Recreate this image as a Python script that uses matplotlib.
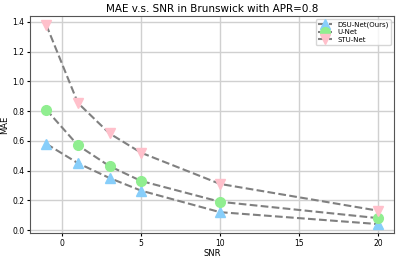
import matplotlib
matplotlib.use("Agg")
import matplotlib.pyplot as plt

snr = [-1, 1, 3, 5, 10, 20]
dsu = [0.58, 0.45, 0.35, 0.265, 0.12, 0.04]
unet = [0.81, 0.57, 0.43, 0.33, 0.19, 0.08]
stu = [1.38, 0.855, 0.65, 0.52, 0.31, 0.13]

fig = plt.figure(figsize=(3.99, 2.59), dpi=100)
ax = fig.add_axes([30/399, 1 - 233/259, 364/399, 217/259])

ax.plot(snr, dsu, linestyle='--', color='gray', marker='^', markersize=7,
        markerfacecolor='lightskyblue', markeredgecolor='lightskyblue', label='DSU-Net(Ours)')
ax.plot(snr, unet, linestyle='--', color='gray', marker='o', markersize=7,
        markerfacecolor='lightgreen', markeredgecolor='lightgreen', label='U-Net')
ax.plot(snr, stu, linestyle='--', color='gray', marker='v', markersize=7,
        markerfacecolor='pink', markeredgecolor='pink', label='STU-Net')

ax.set_xlim(-2.03, 21.0)
ax.set_ylim(-0.02, 1.44)
ax.set_xticks([0, 5, 10, 15, 20])
ax.set_yticks([0.0, 0.2, 0.4, 0.6, 0.8, 1.0, 1.2, 1.4])
ax.grid(True, color='#d0d0d0', linewidth=1)
ax.tick_params(labelsize=5.5, length=2, pad=2)
ax.set_xlabel('SNR', fontsize=6, labelpad=1)
ax.set_ylabel('MAE', fontsize=6, labelpad=2)
ax.set_title('MAE v.s. SNR in Brunswick with APR=0.8', fontsize=7.5, pad=3)
ax.legend(fontsize=5, loc='upper right', markerscale=1.0, handlelength=2,
          labelspacing=0.2, borderpad=0.3)
for s in ax.spines.values():
    s.set_color('#555555')

fig.savefig('out.png', dpi=100)
